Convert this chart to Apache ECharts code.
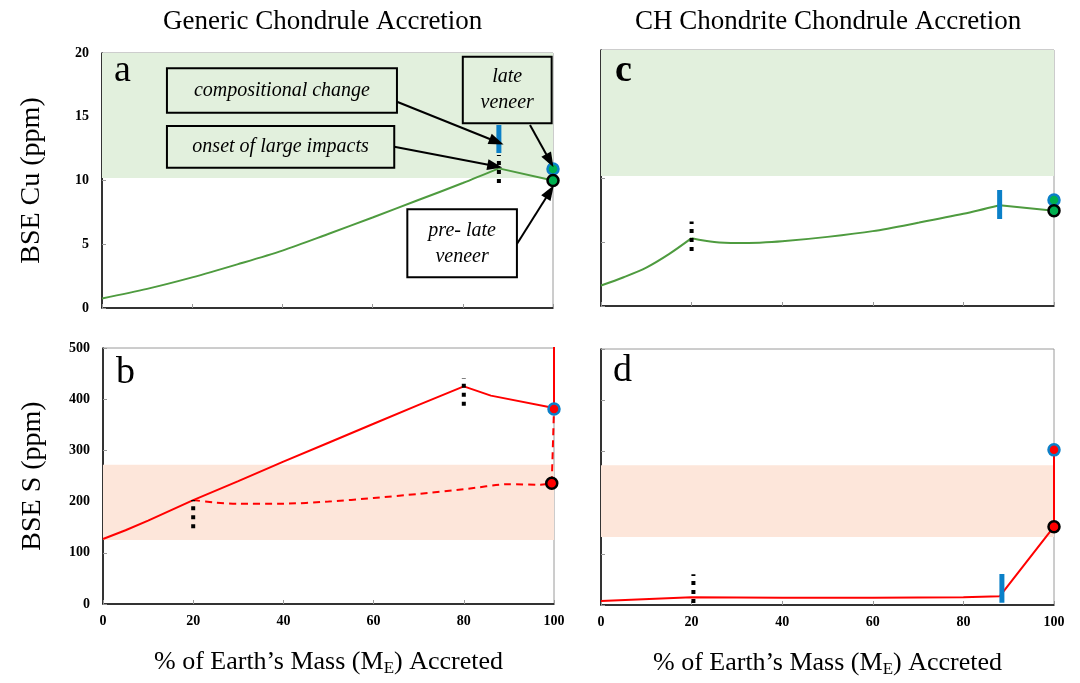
<!DOCTYPE html>
<html><head><meta charset="utf-8">
<script src="https://cdn.jsdelivr.net/npm/echarts@6/dist/echarts.min.js"></script>
<style>html,body{margin:0;padding:0;background:#fff}#c{width:1080px;height:683px}</style>
</head><body><div id="c"></div><script>
// ---------- data ----------
const xTicks = [0, 20, 40, 60, 80, 100];
const cuTicks = [0, 5, 10, 15, 20];
const sTicks = [0, 100, 200, 300, 400, 500];

const panelTitles = ['Generic Chondrule Accretion', 'CH Chondrite Chondrule Accretion'];
const panelLetters = ['a', 'c', 'b', 'd'];

// panel a: generic, Cu
const aX  = [0, 10, 20, 30, 40, 50, 60, 70, 80, 88, 100];
const aCu = [0.75, 1.5, 2.4, 3.42, 4.5, 5.78, 7.1, 8.45, 9.8, 10.95, 10.0];
// panel c: CH, Cu
const cX  = [0, 5, 10, 15, 20, 25, 30, 35, 40, 50, 60, 70, 80, 88, 100];
const cCu = [1.6, 2.25, 3.0, 4.05, 5.3, 5.0, 4.92, 4.95, 5.05, 5.4, 5.85, 6.5, 7.2, 7.87, 7.45];
// panel b: generic, S (solid and dashed paths)
const bX  = [0, 5, 10, 20, 30, 40, 50, 60, 70, 80, 86, 100, 100];
const bS  = [127, 144, 163, 203, 240, 278, 315, 352, 389, 425, 407, 383, 520];
const bdX = [20, 25, 30, 40, 50, 60, 70, 80, 90, 97, 99.5, 100];
const bdS = [203, 198, 196, 196, 200, 207, 215, 224, 234, 233, 236, 381];
// panel d: CH, S
const dX  = [0, 20, 40, 60, 80, 88, 100, 100];
const dS  = [8, 15, 14, 14, 15, 17, 153, 303];

// reference bands (BSE estimates)
const cuBandA = [10.2, 20];
const cuBandC = [10.15, 20];
const sBandB  = [125, 272];
const sBandD  = [133, 273];

// late veneer (final) and pre-late-veneer points
const lateVeneer = [[100, 10.9], [100, 8.28], [100, 381], [100, 303]];
const preLate    = [[100, 10.0], [100, 7.45], [99.5, 236], [100, 153]];

// compositional change bars [x, yLow, yHigh] per panel index (null = none)
const compChange = [[88, 12.15, 14.35], [88, 6.8, 9.06], null, [88.5, 4.5, 60.5]];
// onset of large impacts markers [x, yLow, yHigh]
const onsetImpacts = [[[88, 9.8, 12.0]], [[20, 4.3, 6.6]], [[20, 148, 203], [80, 387, 441]], [[20.4, 4, 60]]];

// annotations in panel a (data coordinates)
const boxText  = ['compositional change', 'onset of large impacts', 'late\nveneer', 'pre- late\nveneer'];
const boxX     = [[14.4, 65.4], [14.4, 64.8], [80, 99.7], [67.7, 92]];
const boxY     = [[15.32, 18.8], [11.0, 14.27], [14.49, 19.71], [2.41, 7.74]];
const arrowFrom = [[65.4, 16.18], [64.8, 12.65], [94.9, 14.35], [92, 5.02]];
const arrowTo   = [[87.5, 13.04], [87.1, 11.14], [99.3, 11.55], [99.3, 9.12]];

// ---------- chart ----------
const SERIF = "'Liberation Serif','Times New Roman',serif";
const GREEN = '#4e9b3f', RED = '#ff0000', BLUE = '#0b80c8', DOTGREEN = '#00b050';
const BAND_G = '#e2f0dd', BAND_S = '#fde6da';
const pair = (xs, ys) => xs.map((x, i) => [x, ys[i]]);
// split a path into pieces at the given x breakpoints (kinks stay sharp)
function pieces(xs, ys, breaks) {
  const pts = pair(xs, ys), out = [];
  let start = 0;
  breaks.forEach(bx => {
    const idx = xs.indexOf(bx);
    out.push(pts.slice(start, idx + 1));
    start = idx;
  });
  out.push(pts.slice(start));
  return out;
}

const gridPos = [
  {left: 102, top: 53, width: 451, height: 255},
  {left: 601, top: 50, width: 453, height: 256},
  {left: 103, top: 348, width: 451, height: 256},
  {left: 601, top: 349, width: 453, height: 256}
];
const grids = gridPos.map(g => Object.assign({show: true, borderColor: '#9a9a9a', borderWidth: 1, backgroundColor: 'transparent'}, g));

const xAxes = [0, 1, 2, 3].map(i => ({
  gridIndex: i, type: 'value', min: xTicks[0], max: xTicks[xTicks.length - 1], interval: xTicks[1] - xTicks[0],
  axisLine: {show: true, onZero: false, lineStyle: {color: '#000', width: 1.5}},
  axisTick: {show: true, inside: true, length: 4, lineStyle: {color: '#999'}},
  splitLine: {show: false},
  axisLabel: {show: i >= 2, fontFamily: SERIF, fontWeight: 'bold', fontSize: 14, color: '#000', margin: 10},
  name: i >= 2 ? '% of Earth\u2019s Mass (M{sub|E}) Accreted' : '',
  nameLocation: 'middle', nameGap: 44,
  nameTextStyle: {fontFamily: SERIF, fontSize: 26, color: '#000',
    rich: {sub: {fontFamily: SERIF, fontSize: 17, color: '#000', padding: [12, 0, 0, 0]}}}
}));

const yDefs = [
  {ticks: cuTicks, labels: true, name: 'BSE Cu (ppm)'},
  {ticks: cuTicks, labels: false, name: ''},
  {ticks: sTicks, labels: true, name: 'BSE S (ppm)'},
  {ticks: sTicks, labels: false, name: ''}
];
const yAxes = yDefs.map((d, i) => ({
  gridIndex: i, type: 'value', min: d.ticks[0], max: d.ticks[d.ticks.length - 1], interval: d.ticks[1] - d.ticks[0],
  axisLine: {show: true, onZero: false, lineStyle: {color: '#000', width: 1.5}},
  axisTick: {show: true, inside: true, length: 4, lineStyle: {color: '#999'}},
  splitLine: {show: false},
  axisLabel: {show: d.labels, fontFamily: SERIF, fontWeight: 'bold', fontSize: 14, color: '#000', margin: 13},
  name: d.name, nameLocation: 'middle', nameGap: 56,
  nameTextStyle: {fontFamily: SERIF, fontSize: 28, color: '#000'}
}));

const series = [];
function band(gi, range, color) {
  return {type: 'line', xAxisIndex: gi, yAxisIndex: gi, data: [], silent: true,
    markArea: {silent: true, z: 1, itemStyle: {color: color}, data: [[{yAxis: range[0]}, {yAxis: range[1]}]]}};
}
function curve(gi, data, color, dashed, smooth) {
  return {type: 'line', xAxisIndex: gi, yAxisIndex: gi, data: data, symbol: 'none', smooth: smooth || 0,
    silent: true, z: 3, clip: true,
    lineStyle: {color: color, width: 2, type: dashed ? [7, 5] : 'solid'}};
}
function vbar(gi, v, color, width, type) {
  return {type: 'line', xAxisIndex: gi, yAxisIndex: gi, data: [[v[0], v[1]], [v[0], v[2]]], symbol: 'none',
    silent: true, z: 4, lineStyle: {color: color, width: width, type: type, cap: 'butt'}};
}
function dot(gi, p, fill, border) {
  return {type: 'scatter', xAxisIndex: gi, yAxisIndex: gi, data: [p], symbolSize: 11, silent: true, z: 6,
    itemStyle: {color: fill, borderColor: border, borderWidth: 2.5, opacity: 1}};
}

series.push(band(0, cuBandA, BAND_G), band(1, cuBandC, BAND_G), band(2, sBandB, BAND_S), band(3, sBandD, BAND_S));
pieces(aX, aCu, [88]).forEach((p, k) => series.push(curve(0, p, GREEN, false, k === 0 ? 0.3 : 0)));
pieces(cX, cCu, [20, 88]).forEach((p, k) => series.push(curve(1, p, GREEN, false, k < 2 ? 0.3 : 0)));
series.push(curve(2, pair(bX, bS), RED, false, 0));
pieces(bdX, bdS, [99.5]).forEach((p, k) => series.push(curve(2, p, RED, true, k === 0 ? 0.25 : 0)));
series.push(curve(3, pair(dX, dS), RED, false, 0));
compChange.forEach((v, i) => { if (v) series.push(vbar(i, v, BLUE, 5, 'solid')); });
onsetImpacts.forEach((list, i) => list.forEach(v => series.push(vbar(i, v, '#000', 4, [4, 5]))));
[0, 1, 2, 3].forEach(i => {
  const fill = i < 2 ? DOTGREEN : RED;
  series.push(dot(i, lateVeneer[i], fill, BLUE));
  series.push(dot(i, preLate[i], fill, '#000'));
});

// annotation boxes & arrows (panel a)
series.push({
  type: 'line', xAxisIndex: 0, yAxisIndex: 0, data: [], silent: true,
  markArea: {silent: true, z: 7,
    data: boxText.map((t, k) => [
      {coord: [boxX[k][0], boxY[k][1]], name: t,
        itemStyle: {color: k === 3 ? '#ffffff' : BAND_G, borderColor: '#000', borderWidth: 2},
        label: {show: true, position: 'inside', formatter: t, fontFamily: SERIF, fontStyle: 'italic',
          fontSize: 20, lineHeight: 26, color: '#000', align: 'center', verticalAlign: 'middle'}},
      {coord: [boxX[k][1], boxY[k][0]]}
    ])},
  markLine: {silent: true, z: 8, symbol: ['none', 'triangle'], symbolSize: [11, 15], label: {show: false},
    lineStyle: {color: '#000', width: 2, type: 'solid'},
    data: arrowFrom.map((f, k) => [{coord: f}, {coord: arrowTo[k]}])}
});

const graphic = [
  {type: 'text', left: 323 - 160, top: 8, z: 100, style: {text: panelTitles[0], font: "27px " + SERIF, fill: '#000'}},
  {type: 'text', left: 830 - 195, top: 8, z: 100, style: {text: panelTitles[1], font: "27px " + SERIF, fill: '#000'}}
];
const letterStyle = [
  {x: 114, y: 52, w: 'normal'}, {x: 615, y: 52, w: 'bold'}, {x: 116, y: 354, w: 'normal'}, {x: 613, y: 352, w: 'normal'}
];
panelLetters.forEach((l, i) => {
  graphic.push({type: 'text', x: letterStyle[i].x, y: letterStyle[i].y, z: 100,
    style: {text: l, font: letterStyle[i].w + ' 38px ' + SERIF, fill: '#000'}});
});

const chart = echarts.init(document.getElementById('c'), null, {renderer: 'canvas'});
chart.setOption({
  animation: false, backgroundColor: '#fff',
  grid: grids, xAxis: xAxes, yAxis: yAxes, series: series, graphic: graphic
});
</script></body></html>
